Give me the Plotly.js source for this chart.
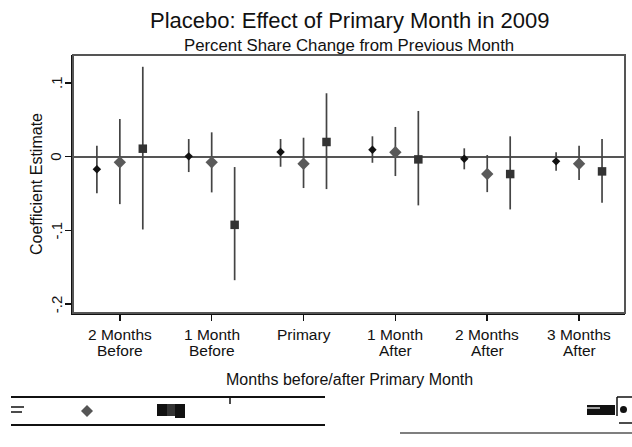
<!DOCTYPE html>
<html>
<head>
<meta charset="utf-8">
<script src="https://cdn.plot.ly/plotly-3.0.1.min.js"></script>
<style>html,body{margin:0;padding:0;background:#fff;}#chart{width:632px;height:447px;}</style>
</head>
<body>
<div id="chart"></div>
<script>
// Categories and tick labels
const categories = [1, 2, 3, 4, 5, 6];
const tickLabels = ["2 Months<br>Before", "1 Month<br>Before", "Primary", "1 Month<br>After", "2 Months<br>After", "3 Months<br>After"];

// Series A (small black diamond)
const estA = [-0.017, 0.0005, 0.0064, 0.0095, -0.0027, -0.0063];
const hiA  = [0.015, 0.024, 0.024, 0.0277, 0.0114, 0.006];
const loA  = [-0.0497, -0.0208, -0.0136, -0.0082, -0.0171, -0.019];

// Series B (gray diamond)
const estB = [-0.0076, -0.0076, -0.0095, 0.006, -0.0235, -0.0095];
const hiB  = [0.0512, 0.0331, 0.0258, 0.0404, 0.0023, 0.015];
const loB  = [-0.0643, -0.0484, -0.0425, -0.0262, -0.048, -0.0317];

// Series C (dark square)
const estC = [0.0109, -0.0924, 0.02, -0.0036, -0.0235, -0.0199];
const hiC  = [0.122, -0.014, 0.0861, 0.0621, 0.0277, 0.024];
const loC  = [-0.0987, -0.1675, -0.0439, -0.066, -0.0715, -0.0625];

const yTickVals = [-0.2, -0.1, 0, 0.1];
const yTickText = ["-.2", "-.1", "0", ".1"];

function mk(est, hi, lo, off, symbol, size, color) {
  return {
    type: 'scatter', mode: 'markers',
    x: categories.map(c => c + off),
    y: est,
    marker: {symbol: symbol, size: size, color: color, line: {width: 0}},
    error_y: {type: 'data', symmetric: false,
      array: hi.map((h, i) => h - est[i]),
      arrayminus: lo.map((l, i) => est[i] - l),
      width: 0, thickness: 1.7, color: '#444'},
    showlegend: false, hoverinfo: 'skip'
  };
}

const data = [
  mk(estA, hiA, loA, -0.25, 'diamond', 6.5, '#111'),
  mk(estB, hiB, loB, 0, 'diamond', 9.5, '#5a5a5a'),
  mk(estC, hiC, loC, 0.25, 'square', 8.5, '#333')
];

// paper-coordinate helpers (plot area: x 73..625 px, y 55..313 px)
const px = v => (v - 73) / 552;
const py = v => (313 - v) / 258;
function diamondPath(cx, cy, r) {
  return `M${px(cx)},${py(cy - r)} L${px(cx + r)},${py(cy)} L${px(cx)},${py(cy + r)} L${px(cx - r)},${py(cy)} Z`;
}

const F = 'Liberation Sans, Arial, sans-serif';

// category labels drawn line by line (tight Stata-like line spacing)
const tickAnn = [];
tickLabels.forEach((lab, i) => {
  lab.split('<br>').forEach((line, j) => {
    tickAnn.push({text: line, xref: 'x', yref: 'paper', x: categories[i], y: py(334 + 16 * j),
      showarrow: false, xanchor: 'center', yanchor: 'middle', font: {family: F, size: 15.5, color: '#111'}});
  });
});
// rotated y tick labels placed against the y scale
yTickVals.forEach((v, i) => {
  tickAnn.push({text: yTickText[i], xref: 'paper', yref: 'y', x: px(56), y: v, textangle: -90,
    showarrow: false, xanchor: 'center', yanchor: 'middle', font: {family: F, size: 15, color: '#111'}});
});

const layout = {
  width: 632, height: 447,
  margin: {l: 73, r: 7, t: 55, b: 134},
  paper_bgcolor: '#fff', plot_bgcolor: '#fff',
  font: {family: F, color: '#111', size: 15},
  showlegend: false,
  xaxis: {
    range: [0.49, 6.5], tickvals: categories, showticklabels: false,
    showgrid: false, zeroline: false, showline: true, linecolor: '#111', linewidth: 2,
    ticks: 'outside', ticklen: 6, tickwidth: 1.5, tickcolor: '#111'
  },
  yaxis: {
    range: [-0.212, 0.138], tickvals: yTickVals, showticklabels: false,
    showgrid: false, zeroline: true, zerolinecolor: '#555', zerolinewidth: 2,
    showline: true, linecolor: '#111', linewidth: 2,
    ticks: 'outside', ticklen: 6, tickwidth: 1.5, tickcolor: '#111'
  },
  shapes: [
    {type: 'rect', xref: 'paper', yref: 'paper', x0: 0, x1: 1, y0: 0, y1: 1, line: {color: '#555', width: 2}},
    // legend remnants
    {type: 'line', xref: 'paper', yref: 'paper', x0: px(11), x1: px(325), y0: py(397), y1: py(397), line: {color: '#111', width: 2}},
    {type: 'line', xref: 'paper', yref: 'paper', x0: px(11), x1: px(325), y0: py(425), y1: py(425), line: {color: '#111', width: 2}},
    {type: 'line', xref: 'paper', yref: 'paper', x0: px(230), x1: px(230), y0: py(397), y1: py(404), line: {color: '#111', width: 1.5}},
    {type: 'line', xref: 'paper', yref: 'paper', x0: px(11), x1: px(24), y0: py(407), y1: py(407), line: {color: '#111', width: 1.5}},
    {type: 'line', xref: 'paper', yref: 'paper', x0: px(11), x1: px(22), y0: py(412), y1: py(412), line: {color: '#111', width: 1.5}},
    {type: 'path', xref: 'paper', yref: 'paper', path: diamondPath(87, 411, 6), fillcolor: '#555', line: {width: 0}},
    {type: 'rect', xref: 'paper', yref: 'paper', x0: px(157), x1: px(167), y0: py(404), y1: py(416), fillcolor: '#111', line: {width: 0}},
    {type: 'rect', xref: 'paper', yref: 'paper', x0: px(167), x1: px(175), y0: py(404), y1: py(416), fillcolor: '#333', line: {width: 0}},
    {type: 'rect', xref: 'paper', yref: 'paper', x0: px(175), x1: px(185), y0: py(404), y1: py(418), fillcolor: '#111', line: {width: 0}},
    {type: 'rect', xref: 'paper', yref: 'paper', x0: px(587), x1: px(615), y0: py(405), y1: py(415), fillcolor: '#111', line: {width: 0}},
    {type: 'line', xref: 'paper', yref: 'paper', x0: px(587), x1: px(600), y0: py(408), y1: py(408), line: {color: '#fff', width: 1.2}},
    {type: 'line', xref: 'paper', yref: 'paper', x0: px(617), x1: px(617), y0: py(397), y1: py(416), line: {color: '#111', width: 1.5}},
    {type: 'line', xref: 'paper', yref: 'paper', x0: px(617), x1: px(632), y0: py(397), y1: py(397), line: {color: '#111', width: 1.5}},
    {type: 'line', xref: 'paper', yref: 'paper', x0: px(619), x1: px(632), y0: py(423), y1: py(423), line: {color: '#111', width: 1.5}},
    {type: 'circle', xref: 'paper', yref: 'paper', x0: px(620), x1: px(627), y0: py(406), y1: py(413), fillcolor: '#111', line: {width: 0}},
    {type: 'line', xref: 'paper', yref: 'paper', x0: px(400), x1: px(632), y0: py(433), y1: py(433), line: {color: '#555', width: 1.5}}
  ],
  annotations: [
    {text: 'Placebo: Effect of Primary Month in 2009', xref: 'paper', yref: 'paper', x: 0.5, y: 1, yshift: 35,
      showarrow: false, font: {family: F, size: 22, color: '#111'}, xanchor: 'center', yanchor: 'middle'},
    {text: 'Percent Share Change from Previous Month', xref: 'paper', yref: 'paper', x: 0.5, y: 1, yshift: 10,
      showarrow: false, font: {family: F, size: 16.8, color: '#111'}, xanchor: 'center', yanchor: 'middle'},
    {text: 'Months before/after Primary Month', xref: 'paper', yref: 'paper', x: 0.5, y: py(379),
      showarrow: false, font: {family: F, size: 16, color: '#111'}, xanchor: 'center', yanchor: 'middle'},
    {text: 'Coefficient Estimate', xref: 'paper', yref: 'paper', x: px(36), y: 0.5, textangle: -90,
      showarrow: false, font: {family: F, size: 16, color: '#111'}, xanchor: 'center', yanchor: 'middle'}
  ].concat(tickAnn)
};

Plotly.newPlot('chart', data, layout, {displayModeBar: false, staticPlot: true});
</script>
</body>
</html>
